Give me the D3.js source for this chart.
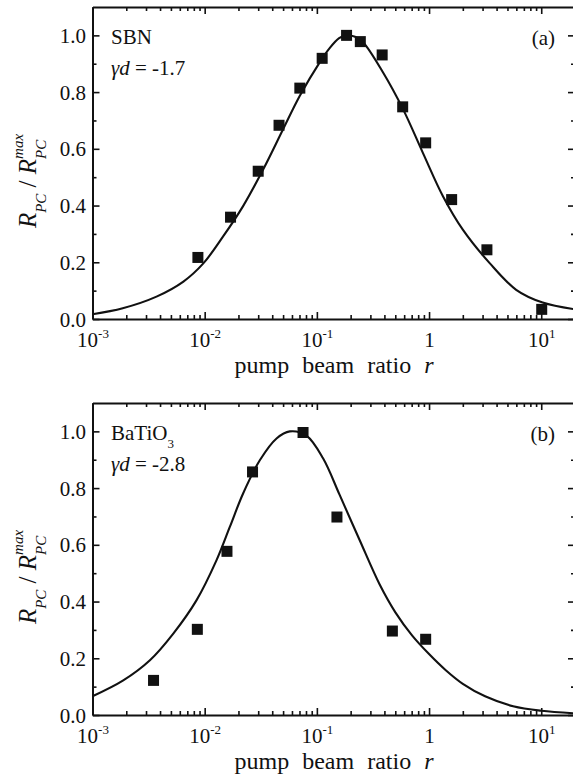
<!DOCTYPE html>
<html><head><meta charset="utf-8">
<script src="https://cdn.jsdelivr.net/npm/d3@7"></script>
<style>
html,body{margin:0;padding:0;background:#fff;}
svg{display:block;}
</style></head>
<body>
<svg id="chart" width="573" height="776" font-family="Liberation Serif"></svg>
<script>
// ---------- data ----------
const xDomain = [0.001, 20];
const yDomain = [0, 1.1];
const xMajorTicks = [0.001, 0.01, 0.1, 1, 10];
const xTickBase = ["10", "10", "10", "1", "10"];
const xTickExp  = ["-3", "-2", "-1", "", "1"];
const yMajorTicks = [0, 0.2, 0.4, 0.6, 0.8, 1.0];
const yMinorTicks = [0.1, 0.3, 0.5, 0.7, 0.9];

// panel (a) SBN measured points
const sbnR = [0.0087, 0.017, 0.030, 0.046, 0.0705, 0.1115, 0.184, 0.244, 0.382, 0.582, 0.933, 1.59, 3.28, 10.1];
const sbnV = [0.217, 0.359, 0.521, 0.683, 0.814, 0.919, 1.0, 0.978, 0.931, 0.748, 0.621, 0.421, 0.244, 0.034];
// panel (a) fitted curve
const sbnCurveR = [0.001, 0.00186, 0.00372, 0.00646, 0.00977, 0.0146, 0.0220, 0.0332, 0.050, 0.0705, 0.106, 0.130, 0.158, 0.182, 0.219, 0.258, 0.388, 0.586, 0.883, 1.33, 2.0, 3.47, 5.98, 10.3, 20];
const sbnCurveV = [0.017, 0.038, 0.079, 0.132, 0.197, 0.291, 0.398, 0.527, 0.669, 0.787, 0.905, 0.955, 0.990, 1.0, 0.995, 0.976, 0.870, 0.740, 0.585, 0.433, 0.315, 0.197, 0.103, 0.058, 0.034];

// panel (b) BaTiO3 measured points
const btR = [0.0035, 0.0086, 0.0158, 0.0267, 0.0753, 0.151, 0.471, 0.933];
const btV = [0.122, 0.302, 0.577, 0.857, 0.996, 0.698, 0.296, 0.267];
// panel (b) fitted curve
const btCurveR = [0.001, 0.00188, 0.00325, 0.00525, 0.00847, 0.01276, 0.01675, 0.0220, 0.0310, 0.0437, 0.0574, 0.0807, 0.1135, 0.160, 0.241, 0.363, 0.501, 0.708, 1.0, 1.41, 2.0, 3.16, 5.62, 10.0, 20];
const btCurveV = [0.066, 0.122, 0.193, 0.287, 0.405, 0.546, 0.663, 0.781, 0.898, 0.975, 1.0, 0.985, 0.905, 0.775, 0.616, 0.460, 0.362, 0.280, 0.215, 0.158, 0.110, 0.066, 0.031, 0.015, 0.006];

const panels = [
  {top: 7, bottom: 319, pts: [sbnR, sbnV], curve: [sbnCurveR, sbnCurveV],
   name: "SBN", nameSub: "", gd: " = -1.7", tag: "(a)"},
  {top: 403, bottom: 715, pts: [btR, btV], curve: [btCurveR, btCurveV],
   name: "BaTiO", nameSub: "3", gd: " = -2.8", tag: "(b)"}
];

// ---------- drawing ----------
const FONT = "Liberation Serif";
const INK = "#111";
const svg = d3.select("#chart");
const left = 92.5, right = 575;
const x = d3.scaleLog().domain(xDomain).range([left, right]);

const xMinor = [];
[0.001, 0.01, 0.1, 1, 10].forEach(d => { for (let k = 2; k <= 9; k++) { const v = d * k; if (v <= 20) xMinor.push(v); } });

function txt(sel) { return sel.append("text").attr("font-family", FONT).attr("fill", INK); }

panels.forEach(p => {
  const y = d3.scaleLinear().domain(yDomain).range([p.bottom, p.top]);
  const g = svg.append("g");

  const styleAxis = sel => {
    sel.attr("font-family", FONT);
    sel.selectAll(".domain").attr("stroke", INK).attr("stroke-width", 2);
    sel.selectAll(".tick line").attr("stroke", INK).attr("stroke-width", 1.6);
    sel.selectAll(".tick text").attr("font-family", FONT).attr("fill", INK);
  };

  // bottom axis
  const gb = g.append("g").attr("transform", `translate(0,${p.bottom})`)
    .call(d3.axisBottom(x).tickValues(xMajorTicks).tickSize(-7).tickSizeOuter(0).tickFormat((d, i) => xTickBase[i]));
  styleAxis(gb);
  gb.selectAll(".tick text").attr("y", 28).attr("dy", 0).attr("font-size", 21)
    .each(function(d, i) {
      if (xTickExp[i]) d3.select(this).append("tspan").attr("font-size", 13).attr("dy", -9).text(xTickExp[i]);
    });
  const gbm = g.append("g").attr("transform", `translate(0,${p.bottom})`)
    .call(d3.axisBottom(x).tickValues(xMinor).tickSize(-4).tickSizeOuter(0).tickFormat(""));
  gbm.select(".domain").remove(); styleAxis(gbm);

  // top axis
  const gt = g.append("g").attr("transform", `translate(0,${p.top})`)
    .call(d3.axisTop(x).tickValues(xMajorTicks).tickSize(-7).tickSizeOuter(0).tickFormat(""));
  styleAxis(gt);
  const gtm = g.append("g").attr("transform", `translate(0,${p.top})`)
    .call(d3.axisTop(x).tickValues(xMinor).tickSize(-4).tickSizeOuter(0).tickFormat(""));
  gtm.select(".domain").remove(); styleAxis(gtm);

  // left axis
  const gl = g.append("g").attr("transform", `translate(${left},0)`)
    .call(d3.axisLeft(y).tickValues(yMajorTicks).tickSize(-7).tickSizeOuter(0).tickPadding(6.5).tickFormat(d3.format(".1f")));
  styleAxis(gl);
  gl.selectAll(".tick text").attr("font-size", 21).attr("dy", "0.34em");
  const glm = g.append("g").attr("transform", `translate(${left},0)`)
    .call(d3.axisLeft(y).tickValues(yMinorTicks).tickSize(-4).tickSizeOuter(0).tickFormat(""));
  glm.select(".domain").remove(); styleAxis(glm);

  // right axis
  const gr = g.append("g").attr("transform", `translate(${right},0)`)
    .call(d3.axisRight(y).tickValues(yMajorTicks).tickSize(-7).tickSizeOuter(0).tickFormat(""));
  styleAxis(gr);
  const grm = g.append("g").attr("transform", `translate(${right},0)`)
    .call(d3.axisRight(y).tickValues(yMinorTicks).tickSize(-4).tickSizeOuter(0).tickFormat(""));
  grm.select(".domain").remove(); styleAxis(grm);

  // curve
  const cr = p.curve[0], cv = p.curve[1];
  const line = d3.line().x((d, i) => x(cr[i])).y((d, i) => y(cv[i])).curve(d3.curveCatmullRom.alpha(0.5));
  g.append("path").datum(cr).attr("d", line).attr("fill", "none").attr("stroke", INK).attr("stroke-width", 2.1);

  // points
  const pr = p.pts[0], pv = p.pts[1];
  const s = 11;
  g.selectAll("rect.pt").data(pr).enter().append("rect").attr("class", "pt")
    .attr("x", (d, i) => x(pr[i]) - s / 2).attr("y", (d, i) => y(pv[i]) - s / 2)
    .attr("width", s).attr("height", s).attr("fill", INK);

  // annotations
  const nm = txt(g).attr("x", 111).attr("y", p.top + 36.5).attr("font-size", 21).text(p.name);
  if (p.nameSub) nm.append("tspan").attr("font-size", 13).attr("dy", 8).text(p.nameSub);
  const gd = txt(g).attr("x", 111).attr("y", p.top + 68).attr("font-size", 21);
  gd.append("tspan").attr("font-style", "italic").text("γd");
  gd.append("tspan").text(p.gd);
  txt(g).attr("x", 555).attr("y", p.top + 38).attr("text-anchor", "end").attr("font-size", 21).text(p.tag);

  // x title
  const xt = txt(g).attr("x", 334).attr("y", p.bottom + 54).attr("text-anchor", "middle")
    .attr("font-size", 24).attr("word-spacing", 7);
  xt.append("tspan").text("pump beam ratio ");
  xt.append("tspan").attr("font-style", "italic").text("r");

  // y title
  const cy = p.top + 174;
  const yg = g.append("g").attr("transform", `translate(36,${cy}) rotate(-90)`);
  const t = txt(yg).attr("x", 0).attr("y", 0).attr("font-size", 25);
  t.append("tspan").attr("font-style", "italic").text("R");
  t.append("tspan").attr("font-style", "italic").attr("font-size", 15).attr("dy", 10).text("PC");
  t.append("tspan").attr("dy", -10).text(" / ");
  t.append("tspan").attr("font-style", "italic").text("R");
  const L1 = t.node().getComputedTextLength();
  t.append("tspan").attr("font-style", "italic").attr("font-size", 15).attr("dy", 10).text("PC");
  const L = t.node().getComputedTextLength();
  const mx = txt(yg).attr("x", L1).attr("y", -13).attr("font-size", 15).attr("font-style", "italic").text("max");
  const total = Math.max(L, L1 + mx.node().getComputedTextLength());
  t.attr("x", -total / 2);
  mx.attr("x", L1 - total / 2);
});
</script>
</body></html>
